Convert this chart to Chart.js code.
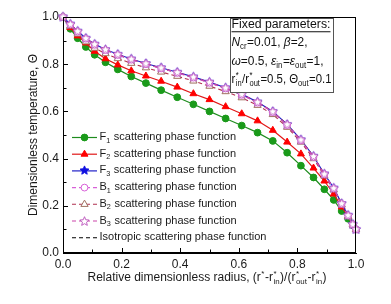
<!DOCTYPE html>
<html><head><meta charset="utf-8">
<script src="https://cdn.jsdelivr.net/npm/chart.js@4/dist/chart.umd.min.js"></script>
<style>html,body{margin:0;padding:0;background:#fff}canvas{display:block}</style>
</head><body>
<canvas id="c" width="391" height="304"></canvas>
<script>
// ---- data ----
const X   = [0, 0.025, 0.05, 0.078, 0.108, 0.145, 0.187, 0.233, 0.283, 0.335, 0.39, 0.445, 0.5, 0.555, 0.61, 0.664, 0.716, 0.765, 0.812, 0.855, 0.892, 0.924, 0.951, 0.973, 0.989, 1.0];
const F1  = [1.0, 0.95, 0.91, 0.873, 0.84, 0.808, 0.778, 0.748, 0.72, 0.69, 0.66, 0.63, 0.6, 0.57, 0.54, 0.51, 0.475, 0.425, 0.37, 0.32, 0.27, 0.225, 0.178, 0.145, 0.118, 0.1];
const F2  = [1.0, 0.955, 0.92, 0.89, 0.855, 0.823, 0.797, 0.772, 0.75, 0.728, 0.703, 0.675, 0.65, 0.62, 0.59, 0.56, 0.52, 0.47, 0.42, 0.36, 0.305, 0.25, 0.195, 0.155, 0.12, 0.1];
const F3  = [1.0, 0.97, 0.94, 0.91, 0.885, 0.862, 0.842, 0.822, 0.803, 0.785, 0.766, 0.746, 0.724, 0.70, 0.673, 0.64, 0.6, 0.545, 0.48, 0.41, 0.335, 0.275, 0.21, 0.16, 0.122, 0.1];
const B1  = [1.0, 0.968, 0.938, 0.908, 0.882, 0.86, 0.839, 0.819, 0.8, 0.782, 0.763, 0.743, 0.721, 0.697, 0.67, 0.637, 0.597, 0.542, 0.477, 0.407, 0.333, 0.273, 0.208, 0.158, 0.121, 0.1];
const B2  = [1.0, 0.962, 0.928, 0.895, 0.868, 0.845, 0.824, 0.804, 0.785, 0.767, 0.749, 0.729, 0.707, 0.684, 0.658, 0.626, 0.587, 0.533, 0.47, 0.4, 0.327, 0.268, 0.205, 0.156, 0.12, 0.1];
const B3  = [1.0, 0.969, 0.939, 0.909, 0.884, 0.861, 0.841, 0.821, 0.802, 0.784, 0.765, 0.745, 0.723, 0.699, 0.672, 0.639, 0.599, 0.544, 0.479, 0.409, 0.334, 0.274, 0.209, 0.159, 0.121, 0.1];
const ISO = [1.0, 0.968, 0.938, 0.909, 0.883, 0.86, 0.84, 0.82, 0.801, 0.783, 0.764, 0.744, 0.722, 0.698, 0.671, 0.638, 0.598, 0.543, 0.478, 0.408, 0.333, 0.273, 0.208, 0.158, 0.121, 0.1];
const X_TICKS = [0, 0.2, 0.4, 0.6, 0.8, 1.0];
const Y_TICKS = [0, 0.2, 0.4, 0.6, 0.8, 1.0];
const LEGEND = [
  [{t:'F'},{t:'1',sub:1},{t:' scattering phase function'}],
  [{t:'F'},{t:'2',sub:1},{t:' scattering phase function'}],
  [{t:'F'},{t:'3',sub:1},{t:' scattering phase function'}],
  [{t:'B'},{t:'1',sub:1},{t:' scattering phase function'}],
  [{t:'B'},{t:'2',sub:1},{t:' scattering phase function'}],
  [{t:'B'},{t:'3',sub:1},{t:' scattering phase function'}],
  [{t:'Isotropic scattering phase function'}]
];
const PARAMS = [
  [{t:'Fixed parameters:',u:1}],
  [{t:'N',it:1},{t:'cr',sub:1},{t:'=0.01, '},{t:'β',it:1},{t:'=2,'}],
  [{t:'ω',it:1},{t:'=0.5, '},{t:'ε',it:1},{t:'in',sub:1},{t:'='},{t:'ε',it:1},{t:'out',sub:1},{t:'=1,'}],
  [{t:'r'},{ss:['*','in']},{t:'/r'},{ss:['*','out']},{t:'=0.5, Θ'},{t:'out',sub:1},{t:'=0.1'}]
];
const X_TITLE = [{t:'Relative dimensionless radius, (r'},{ss:['*','']},{t:'-r'},{ss:['*','in']},{t:')/(r'},{ss:['*','out']},{t:'-r'},{ss:['*','in']},{t:')'}];
const Y_TITLE = 'Dimensionless temperature, Θ';

const FONT = '"Liberation Sans", Arial, sans-serif';

function makeStar(r, fill, stroke){
  const s = Math.ceil(r*2+3), c = document.createElement('canvas');
  c.width = s; c.height = s;
  const g = c.getContext('2d');
  g.beginPath();
  for (let i=0;i<10;i++){
    const rr = i%2 ? r*0.45 : r;
    const a = -Math.PI/2 + i*Math.PI/5;
    const px = s/2 + rr*Math.cos(a), py = s/2 + rr*Math.sin(a);
    i ? g.lineTo(px,py) : g.moveTo(px,py);
  }
  g.closePath();
  g.fillStyle = fill; g.fill();
  g.lineWidth = 1; g.strokeStyle = stroke; g.stroke();
  return c;
}
const starBlue = makeStar(4.6, '#1010e0', '#1010e0');
const starPink = makeStar(4.8, '#ffffff', '#c060c0');

function pts(ys){ return X.map((x,i)=>({x:x, y:ys[i]})); }

const datasets = [
  {label:'F1', data:pts(F1), borderColor:'#1e8c1e', backgroundColor:'#1a9a1a', pointBorderColor:'#1a9a1a', pointStyle:'circle', pointRadius:3.4, borderWidth:1.2, order:6},
  {label:'F2', data:pts(F2), borderColor:'#e01818', backgroundColor:'#ff0000', pointBorderColor:'#ff0000', pointStyle:'triangle', pointRadius:4, borderWidth:1.2, order:5},
  {label:'F3', data:pts(F3), borderColor:'#2020c8', backgroundColor:'#1010e0', pointStyle:starBlue, pointRadius:4, borderWidth:1.2, order:4},
  {label:'B1', data:pts(B1), borderColor:'#d860d8', backgroundColor:'#ffffff', pointBorderColor:'#d860d8', pointStyle:'circle', pointRadius:3.4, borderWidth:1.1, borderDash:[4,3], order:1},
  {label:'B2', data:pts(B2), borderColor:'#b03050', backgroundColor:'#ffffff', pointBorderColor:'#a07060', pointStyle:'triangle', pointRadius:4.2, borderWidth:1.1, borderDash:[4,3], order:2},
  {label:'B3', data:pts(B3), borderColor:'#cc44aa', backgroundColor:'#ffffff', pointStyle:starPink, pointRadius:4, borderWidth:1.1, borderDash:[4,3], order:0},
  {label:'Iso', data:pts(ISO), borderColor:'#000000', backgroundColor:'#000', pointRadius:0, borderWidth:1.1, borderDash:[4,3], order:3}
];
datasets.forEach(d=>{ d.clip=false; d.tension=0; d.pointBorderWidth=1; d.pointHoverRadius=d.pointRadius; if(!d.pointBorderColor) d.pointBorderColor=d.borderColor; d.pointBackgroundColor=d.backgroundColor; });

// draws a line of mixed text (italic, subscript, stacked super/subscript); optional target width squeezes it horizontally
function rich(ctx, x, y, segs, size, measureOnly, target){
  if (target && !measureOnly){
    const w0 = rich(ctx, 0, 0, segs, size, true);
    const k = target / w0;
    ctx.save(); ctx.translate(x, y); ctx.scale(k, 1);
    rich(ctx, 0, 0, segs, size, false);
    ctx.restore();
    return target;
  }
  let cx = x;
  const sub = size*0.66;
  ctx.textBaseline = 'middle';
  ctx.textAlign = 'left';
  for (const s of segs){
    if (s.ss){
      ctx.font = sub+'px '+FONT;
      const w1 = ctx.measureText(s.ss[0]).width, w2 = ctx.measureText(s.ss[1]).width;
      if(!measureOnly){
        ctx.fillText(s.ss[0], cx+0.5, y - size*0.38);
        ctx.fillText(s.ss[1], cx+0.5, y + size*0.33);
      }
      cx += Math.max(w1,w2)+1;
      continue;
    }
    const fs = s.sub ? sub : size;
    ctx.font = (s.it?'italic ':'') + fs + 'px ' + FONT;
    const w = ctx.measureText(s.t).width;
    const yy = s.sub ? y + size*0.33 : y;
    if(!measureOnly){
      ctx.fillText(s.t, cx, yy);
      if (s.u){ ctx.fillRect(cx, y+size*0.5, w, 1); }
    }
    cx += w + (s.sub?0.5:0);
  }
  return cx - x;
}

function drawMarker(ctx, ds, x, y){
  const st = ds.pointStyle;
  if (!ds.pointRadius) return;
  if (st instanceof HTMLCanvasElement){ ctx.drawImage(st, Math.round(x - st.width/2), Math.round(y - st.height/2)); return; }
  const r = ds.pointRadius;
  ctx.beginPath();
  if (st === 'circle') ctx.arc(x, y, r, 0, Math.PI*2);
  else if (st === 'triangle'){
    ctx.moveTo(x, y - r);
    ctx.lineTo(x + r*Math.sin(Math.PI*2/3), y - r*Math.cos(Math.PI*2/3));
    ctx.lineTo(x + r*Math.sin(Math.PI*4/3), y - r*Math.cos(Math.PI*4/3));
    ctx.closePath();
  }
  ctx.fillStyle = ds.pointBackgroundColor; ctx.fill();
  ctx.lineWidth = 1; ctx.strokeStyle = ds.pointBorderColor; ctx.stroke();
}

const decor = {
  id:'decor',
  afterDatasetsDraw(chart){
    const ctx = chart.ctx, a = chart.chartArea, xs = chart.scales.x, ys = chart.scales.y;
    ctx.save();
    // frame
    ctx.strokeStyle = '#000'; ctx.lineWidth = 1;
    ctx.strokeRect(Math.round(a.left)+0.5, Math.round(a.top)+0.5, Math.round(a.right-a.left)-1, Math.round(a.bottom-a.top)-1);
    // inward ticks
    ctx.beginPath();
    for (let i=1;i<10;i++){
      const v = i/10, L = (i%2===0) ? 4 : 2.5;
      const px = Math.round(xs.getPixelForValue(v))+0.5;
      ctx.moveTo(px, a.bottom-1); ctx.lineTo(px, a.bottom-1-L);
      const py = Math.round(ys.getPixelForValue(v))+0.5;
      ctx.moveTo(a.left+1, py); ctx.lineTo(a.left+1+L, py);
    }
    ctx.stroke();
    // legend
    const lx0 = 72, lx1 = 97, ly0 = 137, dy = 16.7;
    datasets.forEach((ds,i)=>{
      const y = ly0 + i*dy;
      ctx.save();
      ctx.strokeStyle = ds.borderColor; ctx.lineWidth = ds.borderWidth;
      ctx.setLineDash(ds.borderDash || []);
      ctx.beginPath(); ctx.moveTo(lx0, y+0.5); ctx.lineTo(lx1, y+0.5); ctx.stroke();
      ctx.setLineDash([]);
      drawMarker(ctx, ds, (lx0+lx1)/2, y+0.5);
      ctx.restore();
      ctx.fillStyle = '#1a1a1a';
      rich(ctx, 99.5, y, LEGEND[i], 11);
    });
    // parameter box
    ctx.fillStyle = '#fff';
    ctx.fillRect(230.5, 18.5, 103, 74);
    ctx.strokeStyle = '#555'; ctx.lineWidth = 1;
    ctx.strokeRect(230.5, 18.5, 103, 74);
    ctx.fillStyle = '#111';
    const py = [25, 43, 62, 80];
    const tw = [99, 76, 92, 100];
    PARAMS.forEach((segs,i)=> rich(ctx, 231.5, py[i], segs, 12.5, false, tw[i]));
    // x title
    ctx.fillStyle = '#1a1a1a';
    const w = rich(ctx, 0, 0, X_TITLE, 12, true);
    rich(ctx, 207 - w/2, 278, X_TITLE, 12);
    ctx.restore();
  }
};

new Chart(document.getElementById('c'), {
  type:'line',
  data:{ datasets },
  options:{
    responsive:false, animation:false, maintainAspectRatio:false,
    layout:{ padding:{ left:0, right:35, top:17, bottom:0 } },
    plugins:{ legend:{display:false}, tooltip:{enabled:false} },
    scales:{
      x:{ type:'linear', min:0, max:1,
        afterBuildTicks(s){ s.ticks = X_TICKS.map(v=>({value:v})); },
        afterFit(s){ s.height = 51; },
        grid:{ display:false, drawTicks:false }, border:{ display:true, color:'#000', width:1 },
        ticks:{ padding:4, color:'#1a1a1a', font:{ family:FONT, size:12 }, maxRotation:0, callback:v=>v.toFixed(1) } },
      y:{ type:'linear', min:0, max:1,
        afterBuildTicks(s){ s.ticks = Y_TICKS.map(v=>({value:v})); },
        afterFit(s){ s.width = 63; },
        grid:{ display:false, drawTicks:false }, border:{ display:true, color:'#000', width:1 },
        title:{ display:true, text:Y_TITLE, color:'#1a1a1a', font:{ family:FONT, size:12 }, padding:{ top:26, bottom:0 } },
        ticks:{ padding:4, color:'#1a1a1a', font:{ family:FONT, size:12 }, callback:v=>v.toFixed(1) } }
    }
  },
  plugins:[decor]
});
</script>
</body></html>
